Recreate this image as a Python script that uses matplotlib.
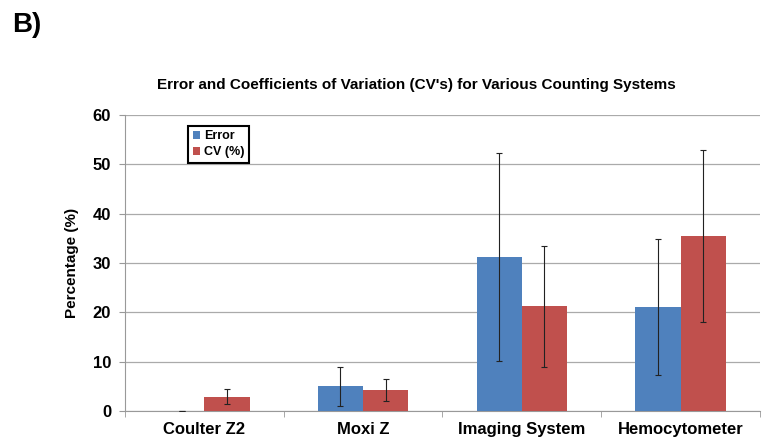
import matplotlib.pyplot as plt
import numpy as np

plt.rcParams['font.family'] = ['Liberation Sans', 'DejaVu Sans']

systeme = ['Coulter Z2', 'Moxi Z', 'Imaging System', 'Hemocytometer']
fehler = [0.0, 5.0, 31.2, 21.0]
fehler_err = [0.0, 4.0, 21.0, 13.8]
cv = [2.9, 4.2, 21.2, 35.5]
cv_err = [1.5, 2.2, 12.3, 17.4]
y_ticks = [0, 10, 20, 30, 40, 50, 60]

blau = '#4F81BD'
rot = '#C0504D'

fig = plt.figure(figsize=(7.7, 4.38), dpi=100)
ax = fig.add_axes([0.1623, 0.0616, 0.8247, 0.6758])

x = np.arange(len(systeme))
breite = 0.285
err_stil = dict(ecolor='#222222', elinewidth=0.8, capsize=2, capthick=0.8)
ax.bar(x - breite/2, fehler, breite, color=blau, label='Error',
       yerr=fehler_err, error_kw=err_stil, zorder=3)
ax.bar(x + breite/2, cv, breite, color=rot, label='CV (%)',
       yerr=cv_err, error_kw=err_stil, zorder=3)

ax.set_xlim(-0.5, len(systeme) - 0.5)
ax.set_ylim(0, 60)
ax.set_yticks(y_ticks)
ax.set_yticklabels([str(t) for t in y_ticks], fontsize=12, fontweight='bold')
ax.set_xticks(x)
ax.set_xticklabels(systeme, fontsize=12, fontweight='bold')
ax.set_xticks(np.arange(len(systeme) + 1) - 0.5, minor=True)
ax.tick_params(axis='x', which='major', length=0, pad=8)
ax.tick_params(axis='x', which='minor', length=4, color='#999999')
ax.tick_params(axis='y', length=4, color='#999999', pad=6)
ax.grid(axis='y', color='#aaaaaa', linewidth=0.9, zorder=0)
for s in ['top', 'right']:
    ax.spines[s].set_visible(False)
for s in ['left', 'bottom']:
    ax.spines[s].set_color('#999999')
ax.set_ylabel('Percentage (%)', fontsize=11, fontweight='bold', labelpad=10)

leg = ax.legend(loc='upper left', bbox_to_anchor=(0.09, 0.985),
                prop={'weight': 'bold', 'size': 9}, fancybox=False,
                handlelength=0.6, handleheight=0.6, handletextpad=0.3,
                borderpad=0.35, labelspacing=0.35, framealpha=1)
leg.get_frame().set_edgecolor('black')
leg.get_frame().set_linewidth(1.5)

fig.text(416/770, 1 - 85/438, "Error and Coefficients of Variation (CV's) for Various Counting Systems",
         ha='center', va='center', fontsize=11, fontweight='bold')
fig.text(12/770, 1 - 25/438, 'B)', ha='left', va='center', fontsize=20, fontweight='bold')

fig.savefig('out.png', dpi=100)
